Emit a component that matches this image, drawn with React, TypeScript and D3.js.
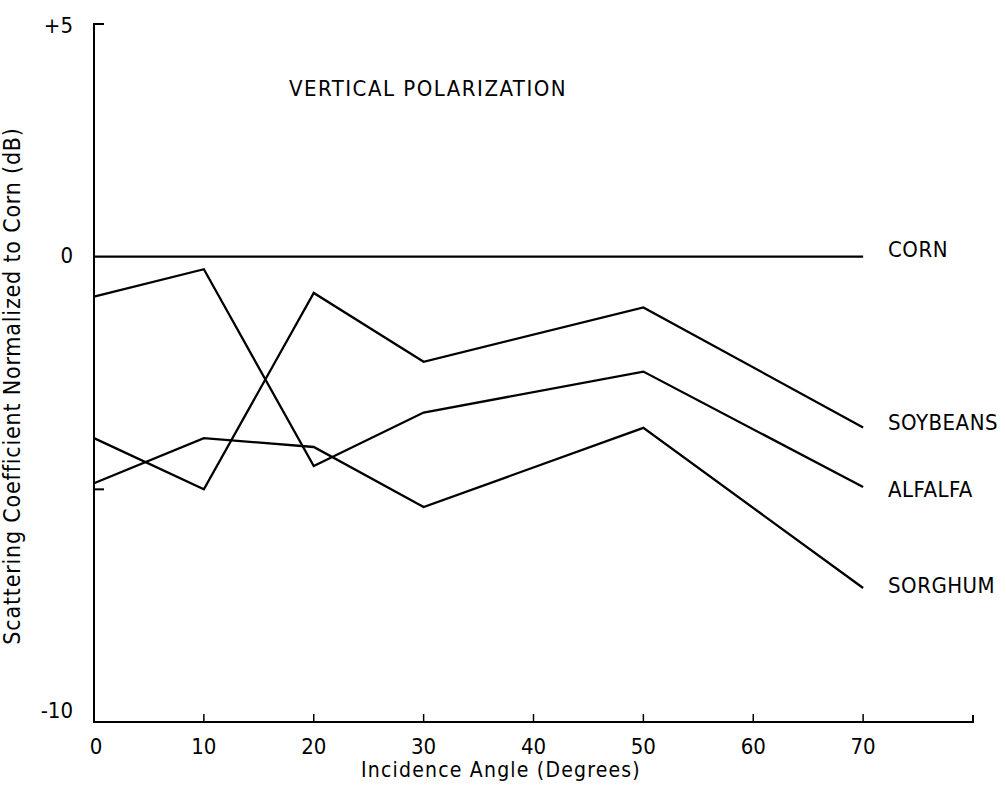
import React from "react";
import * as d3 from "d3";

const angles = [0, 10, 20, 30, 50, 70];
const corn = [0, 0, 0, 0, 0, 0];
const soybeans = [-3.9, -5.0, -0.78, -2.26, -1.09, -3.67];
const alfalfa = [-0.86, -0.27, -4.5, -3.35, -2.47, -4.95];
const sorghum = [-4.87, -3.9, -4.09, -5.38, -3.68, -7.12];
const seriesNames = ["CORN", "SOYBEANS", "ALFALFA", "SORGHUM"];
const xTicks = [0, 10, 20, 30, 40, 50, 60, 70];
const yTickLabels = ["+5", "0", "-10"];
const yTickValues = [5, 0, -10];
const yMinorTicks = [5, -5];

const FONT = "'Liberation Sans Narrow', 'DejaVu Sans Condensed', 'Roboto Condensed', Roboto, sans-serif";

export default function App() {
  const W = 1006, H = 789;
  const x = d3.scaleLinear().domain([0, 80]).range([94, 973]);
  const y = d3.scaleLinear().domain([-10, 5]).range([722, 24]);
  const line = d3.line<number>().x((_, i) => x(angles[i])).y((d) => y(d));
  const all = [corn, soybeans, alfalfa, sorghum];
  const x0 = x(0), yb = y(-10);
  const labelDy = [0, 3, 10, 5];
  const yTickDy = [9, 6, -4];
  return (
    <svg width={W} height={H} style={{ position: "absolute", left: 0, top: 0, background: "#fff" }}
      fontFamily={FONT}>
      {/* axes */}
      <path d={`M${x0 + 9},${y(5)}H${x0}V${yb}H${x(80)}V${yb - 7}`} fill="none" stroke="#000" strokeWidth={2} />
      {yMinorTicks.map((v) => (
        <line key={"ym" + v} x1={x0} x2={x0 + 10} y1={y(v)} y2={y(v)} stroke="#000" strokeWidth={2} />
      ))}
      {xTicks.filter((t) => t > 0).map((t) => (
        <line key={"xt" + t} x1={x(t)} x2={x(t)} y1={yb} y2={yb - 8} stroke="#000" strokeWidth={1.5} />
      ))}
      {xTicks.map((t) => (
        <text key={"xl" + t} x={x(t) + (t === 0 ? 2 : 0)} y={754} textAnchor="middle" fontSize={22} fill="#000">{t}</text>
      ))}
      {yTickValues.map((v, i) => (
        <text key={"yl" + v} x={73} y={y(v) + yTickDy[i]} textAnchor="end" fontSize={22} fill="#000">{yTickLabels[i]}</text>
      ))}
      {/* series */}
      {all.map((s, i) => (
        <path key={"s" + i} d={line(s) || ""} fill="none" stroke="#000" strokeWidth={2.3} strokeLinejoin="miter" />
      ))}
      {all.map((s, i) => (
        <text key={"n" + i} x={888} y={y(s[s.length - 1]) + labelDy[i]} fontSize={22} fill="#000" letterSpacing={0.5}>{seriesNames[i]}</text>
      ))}
      <text x={289} y={96} fontSize={22} fill="#000" letterSpacing={1.5}>VERTICAL POLARIZATION</text>
      <text x={501} y={777} textAnchor="middle" fontSize={21} fill="#000" letterSpacing={1.2}>Incidence Angle (Degrees)</text>
      <text transform={`translate(13,386) rotate(-90)`} textAnchor="middle" dominantBaseline="middle" fontSize={23} fill="#000" letterSpacing={0.8}>Scattering Coefficient Normalized to Corn (dB)</text>
    </svg>
  );
}
